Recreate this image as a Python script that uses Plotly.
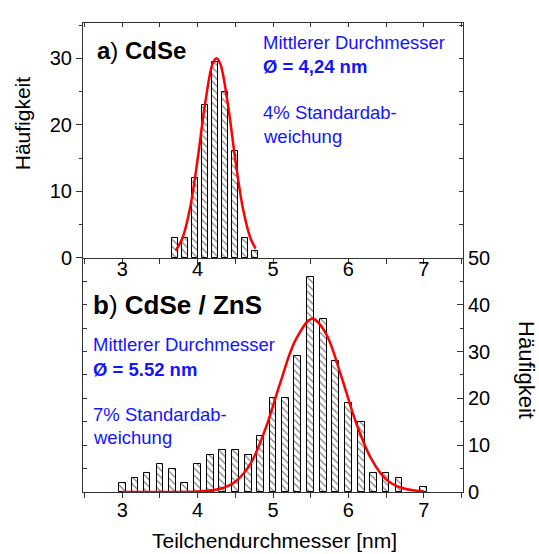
import plotly.graph_objects as go

# ---- data ----
top_x = [3.70, 3.83, 3.96, 4.10, 4.23, 4.36, 4.50, 4.63, 4.76]
top_counts = [3, 3, 12, 23, 29.4, 25, 16, 3, 1]
top_fit_x = [3.71, 3.80, 3.90, 4.00, 4.10, 4.20, 4.25, 4.30, 4.40, 4.50, 4.60, 4.70, 4.77]
top_fit_y = [1.1, 3.0, 7.5, 14.8, 23.2, 29.2, 30.0, 29.2, 23.2, 14.8, 7.5, 3.0, 1.4]

bot_x = [3.00, 3.17, 3.33, 3.50, 3.67, 3.83, 4.00, 4.17, 4.33, 4.50, 4.67, 4.83,
         5.00, 5.17, 5.33, 5.50, 5.67, 5.83, 6.00, 6.17, 6.33, 6.50, 6.67, 7.00]
bot_counts = [2, 3, 4, 6, 5, 2, 6, 8, 9, 9, 8, 12,
              20, 20, 29, 46, 37, 28, 19, 15, 4, 4, 3, 1]
bot_fit_x = [3.0, 3.5, 4.0, 4.3, 4.5, 4.7, 4.9, 5.1, 5.3, 5.52, 5.7, 5.9, 6.1, 6.3, 6.5, 6.7, 7.0]
bot_fit_y = [0.0, 0.0, 0.1, 0.7, 2.2, 6.0, 13.5, 23.5, 32.5, 37.0, 33.9, 25.0, 14.9, 7.2, 2.7, 0.9, 0.1]

x_ticks = [3, 4, 5, 6, 7]

FONT = "Liberation Sans, Arial, sans-serif"
AX = "#333333"
BLUE = "#1414ff"

fig = go.Figure()

hatch = dict(shape="\\", fgcolor="black", bgcolor="white", size=5, solidity=0.25)

fig.add_trace(go.Bar(x=top_x, y=top_counts, width=0.08, xaxis="x", yaxis="y",
                     marker=dict(color="white", line=dict(color="black", width=1), pattern=hatch),
                     showlegend=False))
fig.add_trace(go.Scatter(x=top_fit_x, y=top_fit_y, xaxis="x", yaxis="y", mode="lines",
                         line=dict(color="#ff0000", width=2.5, shape="spline"), showlegend=False))

fig.add_trace(go.Bar(x=bot_x, y=bot_counts, width=0.09, xaxis="x2", yaxis="y2",
                     marker=dict(color="white", line=dict(color="black", width=1), pattern=hatch),
                     showlegend=False))
fig.add_trace(go.Scatter(x=bot_fit_x, y=bot_fit_y, xaxis="x2", yaxis="y2", mode="lines",
                         line=dict(color="#ff0000", width=2.5, shape="spline"), showlegend=False))

# invisible helpers so that mirror axes are drawn
fig.add_trace(go.Scatter(x=[5], y=[1], xaxis="x3", yaxis="y3", mode="markers",
                         marker=dict(opacity=0), hoverinfo="skip", showlegend=False))
fig.add_trace(go.Scatter(x=[5], y=[1], xaxis="x2", yaxis="y4", mode="markers",
                         marker=dict(opacity=0), hoverinfo="skip", showlegend=False))

XR = [2.48, 7.52]
tickfont = dict(family=FONT, size=20, color="black")

common_x = dict(range=XR, showgrid=False, zeroline=False, showline=True, linecolor=AX, linewidth=1)

fig.update_layout(
    width=539, height=554,
    margin=dict(l=83, r=76, t=15, b=62),
    paper_bgcolor="white", plot_bgcolor="white",
    bargap=0,
    font=dict(family=FONT, color="black"),
    xaxis=dict(**common_x, anchor="y", tickmode="array", tickvals=x_ticks,
               ticks="outside", ticklen=5, tickcolor=AX, tickfont=tickfont, ticklabelstandoff=-12,
               minor=dict(dtick=0.5, tick0=0, ticks="outside", ticklen=5, tickcolor=AX)),
    xaxis3=dict(**common_x, overlaying="x", anchor="y3", side="top", tickmode="linear",
                tick0=0, dtick=0.5, ticks="inside", ticklen=4, tickcolor=AX, showticklabels=False),
    xaxis2=dict(**common_x, anchor="y2", tickmode="array", tickvals=x_ticks,
                ticks="outside", ticklen=5, tickcolor=AX, tickfont=tickfont, ticklabelstandoff=-5,
                minor=dict(dtick=0.5, tick0=0, ticks="outside", ticklen=5, tickcolor=AX)),
    yaxis=dict(domain=[0.499, 1], anchor="x", range=[0, 35.3], showgrid=False, zeroline=False,
               showline=True, linecolor=AX, linewidth=1, tickmode="linear", tick0=0, dtick=10,
               ticks="outside", ticklen=6, tickcolor=AX, tickfont=tickfont,
               minor=dict(dtick=5, tick0=0, ticks="outside", ticklen=3, tickcolor=AX)),
    yaxis3=dict(overlaying="y", anchor="x3", side="right", range=[0, 35.3], showgrid=False,
                zeroline=False, showline=True, linecolor=AX, linewidth=1, tickmode="linear",
                tick0=0, dtick=5, ticks="inside", ticklen=4, tickcolor=AX, showticklabels=False),
    yaxis2=dict(domain=[0, 0.499], anchor="x2", side="right", range=[0, 50], showgrid=False,
                zeroline=False, showline=True, linecolor=AX, linewidth=1, tickmode="linear",
                tick0=0, dtick=10, ticks="inside", ticklen=6, tickcolor=AX, tickfont=tickfont,
                minor=dict(dtick=5, tick0=0, ticks="inside", ticklen=3, tickcolor=AX)),
    yaxis4=dict(overlaying="y2", anchor="x2", side="left", range=[0, 50], showgrid=False,
                zeroline=False, showline=True, linecolor=AX, linewidth=1, tickmode="linear",
                tick0=0, dtick=5, ticks="inside", ticklen=4, tickcolor=AX, showticklabels=False),
)

L, R, T, B = 83, 463, 15, 492


def px(x):
    return (x - L) / (R - L)


def py(y):
    return (B - y) / (B - T)


def ann(text, x, y, size, color="black", angle=0, xanchor="left"):
    fig.add_annotation(text=text, x=px(x), y=py(y), xref="paper", yref="paper",
                       xanchor=xanchor, yanchor="middle", showarrow=False, textangle=angle,
                       font=dict(family=FONT, size=size, color=color))


ann("<b>a</b>) <b>CdSe</b>", 95, 43, 24)
ann("<b>b</b>) <b>CdSe / ZnS</b>", 91, 302, 26)

BS = 18.5
ann("Mittlerer Durchmesser", 261, 35, BS, BLUE)
ann("<b>Ø = 4,24 nm</b>", 261, 59, BS, BLUE)
ann("4% Standardab-", 261, 106, BS, BLUE)
ann("weichung", 261, 130, BS, BLUE)

ann("Mittlerer Durchmesser", 91, 342, BS, BLUE)
ann("<b>Ø = 5.52 nm</b>", 91, 367, BS, BLUE)
ann("7% Standardab-", 91, 413, BS, BLUE)
ann("weichung", 91, 437, BS, BLUE)

ann("Häufigkeit", 22, 117, 21, angle=-90, xanchor="center")
ann("Häufigkeit", 527, 368, 22, angle=90, xanchor="center")
ann("Teilchendurchmesser [nm]", 274, 541, 21, xanchor="center")

fig.write_html("out.html")
